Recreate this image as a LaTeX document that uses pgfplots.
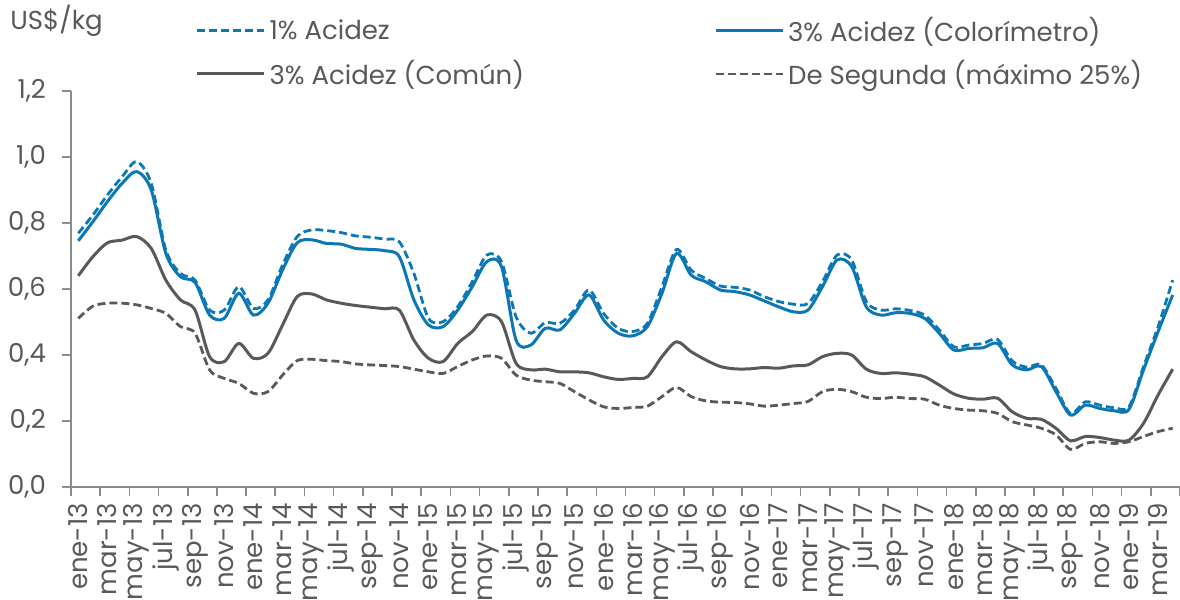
\documentclass[border=0pt]{standalone}
\usepackage{pgfplots}
\usepackage{pgfplotstable}
\pgfplotsset{compat=1.18}
\usepackage{fontspec}
\setmainfont{Poppins}
\definecolor{cblue}{HTML}{0B77B5}
\definecolor{cgray}{HTML}{595959}
\definecolor{axgray}{HTML}{8C8C8C}
\pgfplotstableread{
i a b c d
0 0.769 0.746 0.640 0.511
1 0.824 0.804 0.698 0.548
2 0.885 0.865 0.740 0.557
3 0.940 0.920 0.748 0.557
4 0.986 0.956 0.759 0.552
5 0.920 0.900 0.723 0.541
6 0.718 0.708 0.627 0.526
7 0.647 0.637 0.567 0.486
8 0.627 0.620 0.536 0.466
9 0.536 0.521 0.395 0.355
10 0.536 0.511 0.380 0.329
11 0.607 0.587 0.435 0.314
12 0.541 0.521 0.390 0.284
13 0.567 0.557 0.405 0.289
14 0.673 0.658 0.491 0.339
15 0.759 0.740 0.577 0.383
16 0.779 0.749 0.585 0.387
17 0.777 0.738 0.567 0.383
18 0.771 0.736 0.557 0.380
19 0.761 0.723 0.550 0.373
20 0.757 0.720 0.545 0.370
21 0.751 0.716 0.540 0.368
22 0.743 0.698 0.536 0.365
23 0.647 0.567 0.445 0.357
24 0.511 0.491 0.390 0.349
25 0.501 0.486 0.380 0.344
26 0.546 0.536 0.435 0.365
27 0.622 0.607 0.471 0.385
28 0.703 0.683 0.521 0.397
29 0.683 0.668 0.501 0.390
30 0.516 0.445 0.375 0.339
31 0.466 0.430 0.355 0.324
32 0.498 0.481 0.357 0.319
33 0.496 0.476 0.349 0.314
34 0.536 0.526 0.349 0.289
35 0.597 0.582 0.346 0.264
36 0.526 0.506 0.334 0.243
37 0.481 0.466 0.326 0.238
38 0.471 0.458 0.329 0.241
39 0.496 0.486 0.334 0.245
40 0.607 0.587 0.395 0.274
41 0.720 0.708 0.440 0.302
42 0.657 0.642 0.410 0.274
43 0.632 0.622 0.385 0.261
44 0.609 0.597 0.365 0.257
45 0.605 0.592 0.358 0.256
46 0.597 0.582 0.358 0.252
47 0.577 0.564 0.362 0.245
48 0.562 0.546 0.360 0.248
49 0.554 0.531 0.367 0.253
50 0.556 0.536 0.370 0.259
51 0.622 0.607 0.395 0.289
52 0.703 0.688 0.405 0.296
53 0.688 0.668 0.400 0.289
54 0.562 0.546 0.357 0.272
55 0.536 0.521 0.344 0.268
56 0.540 0.528 0.346 0.272
57 0.535 0.526 0.342 0.268
58 0.521 0.511 0.334 0.266
59 0.476 0.466 0.309 0.248
60 0.425 0.415 0.282 0.238
61 0.430 0.420 0.269 0.233
62 0.435 0.422 0.266 0.231
63 0.447 0.435 0.269 0.223
64 0.382 0.370 0.228 0.198
65 0.363 0.355 0.208 0.188
66 0.370 0.365 0.205 0.178
67 0.299 0.289 0.178 0.158
68 0.223 0.218 0.140 0.114
69 0.258 0.248 0.153 0.132
70 0.248 0.238 0.150 0.137
71 0.240 0.231 0.142 0.132
72 0.243 0.235 0.142 0.137
73 0.365 0.355 0.193 0.153
74 0.486 0.471 0.279 0.168
75 0.627 0.582 0.357 0.178
}\datatable
\begin{document}
\begin{tikzpicture}[x=1pt,y=1pt]
\useasboundingbox (0,0) rectangle (590,300);
\node[anchor=base west, text=cgray, font=\fontsize{13}{15}\selectfont, inner sep=0pt] at (5,285) {US\$/kg};
\begin{axis}[
  at={(35.5pt,56.5pt)}, anchor=south west,
  scale only axis, width=554.5pt, height=198pt,
  xmin=-0.5, xmax=75.5, ymin=0, ymax=1.2,
  axis x line*=bottom, axis y line*=left,
  axis line style={axgray, line width=0.8pt},
  tick align=outside,
  major tick length=0pt, minor tick length=4.5pt,
  minor tick style={axgray, line width=0.8pt},
  xtick={0,2,...,74},
  minor xtick={-0.5,1.5,...,75.5},
  ytick={0,0.2,...,1.2},
  minor ytick={0,0.2,...,1.2},
  xticklabels={ene-13,mar-13,may-13,jul-13,sep-13,nov-13,
    ene-14,mar-14,may-14,jul-14,sep-14,nov-14,
    ene-15,mar-15,may-15,jul-15,sep-15,nov-15,
    ene-16,mar-16,may-16,jul-16,sep-16,nov-16,
    ene-17,mar-17,may-17,jul-17,sep-17,nov-17,
    ene-18,mar-18,may-18,jul-18,sep-18,nov-18,
    ene-19,mar-19},
  xticklabel style={rotate=90, anchor=east, text=cgray, font=\fontsize{13}{15}\selectfont},
  yticklabel style={text=cgray, font=\fontsize{13}{15}\selectfont},
  xticklabel shift=4.5pt,
  yticklabel shift=9pt,
  /pgf/number format/.cd, fixed, fixed zerofill, precision=1, use comma, assume math mode=true,
  /pgfplots/.cd,
  legend columns=2,
  legend cell align=left,
  legend style={at={(axis description cs:0.112,1.198)}, anchor=north west, draw=none, fill=none, inner sep=0pt,
    font=\fontsize{13}{15}\selectfont, text=cgray, row sep=4pt,
    /tikz/every even column/.append style={column sep=93pt}},
  legend image code/.code={\draw[#1] (0pt,0pt) -- (33.5pt,0pt);},
]
\addplot[cblue, line width=1.4pt, dash pattern=on 4pt off 2pt, smooth] table[x=i, y=a] {\datatable};
\addlegendentry{1\% Acidez}
\addplot[cblue, line width=1.5pt, smooth] table[x=i, y=b] {\datatable};
\addlegendentry{3\% Acidez (Colorímetro)}
\addplot[cgray, line width=1.5pt, smooth] table[x=i, y=c] {\datatable};
\addlegendentry{3\% Acidez (Común)}
\addplot[cgray, line width=1.4pt, dash pattern=on 4pt off 2pt, smooth] table[x=i, y=d] {\datatable};
\addlegendentry{De Segunda (máximo 25\%)}
\end{axis}
\end{tikzpicture}
\end{document}
